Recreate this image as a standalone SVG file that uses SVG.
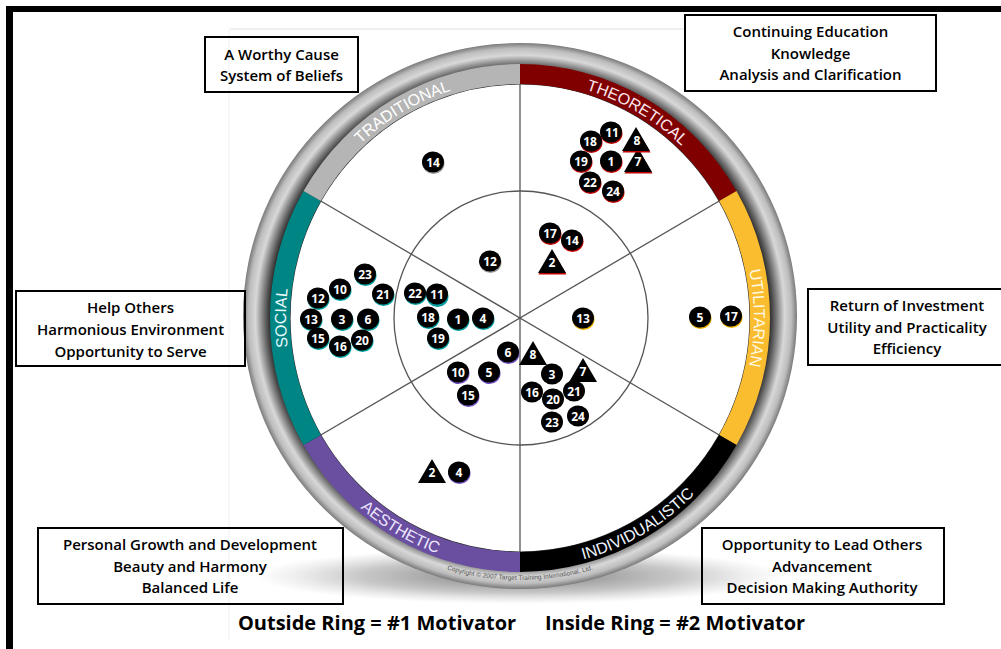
<svg xmlns="http://www.w3.org/2000/svg" width="1001" height="649" viewBox="0 0 1001 649">
<defs>
<radialGradient id="rimGrad" cx="50%" cy="50%" r="50%">
<stop offset="0" stop-color="#222"/>
<stop offset="0.895" stop-color="#1a1a1a"/>
<stop offset="0.915" stop-color="#555"/>
<stop offset="0.955" stop-color="#d8d8d8"/>
<stop offset="0.98" stop-color="#bdbdbd"/>
<stop offset="1" stop-color="#7a7a7a"/>
</radialGradient>
<radialGradient id="shadowGrad" cx="50%" cy="50%" r="50%">
<stop offset="0" stop-color="#666" stop-opacity="0.9"/>
<stop offset="0.6" stop-color="#999" stop-opacity="0.55"/>
<stop offset="1" stop-color="#bbb" stop-opacity="0"/>
</radialGradient>
<path id="pTrad" d="M 317.4,199 A 234 238 0 0 1 520,80"/>
<path id="pTheo" d="M 520,80 A 234 238 0 0 1 722.6,199"/>
<path id="pUtil" d="M 722.6,199 A 234 238 0 0 1 722.6,437"/>
<path id="pSoc" d="M 317.4,437 A 234 238 0 0 1 317.4,199"/>
<path id="pInd" d="M 520,568 A 246 250 0 0 0 733,443"/>
<path id="pAes" d="M 307,443 A 246 250 0 0 0 520,568"/>
<path id="pCopy" d="M 409.3,555.4 A 262 262 0 0 0 630.7,555.4"/>
<style>
.box{fill:none;stroke:#000;stroke-width:2}
.bt{font-family:"Open Sans","Liberation Sans",sans-serif;font-weight:600;font-size:15px;fill:#000;text-anchor:middle}
.leg{font-family:"Open Sans","Liberation Sans",sans-serif;font-weight:700;font-size:20px;fill:#000;text-anchor:middle}
.band{font-family:"Liberation Sans",Arial,sans-serif;font-size:16px;fill:#fff;text-anchor:middle}
.div{stroke:#555;stroke-width:1.3;fill:none}
.dot{fill:#000}
.tri{fill:#000}
.n{font-family:"Open Sans","Liberation Sans",sans-serif;font-weight:700;font-size:12px;fill:#fff;text-anchor:middle}
.sr{fill:#c00000}
.sg{fill:#a0a0a0}
.st{fill:#00a0a0}
.sy{fill:#f0b400}
.sp{fill:#7050c0}
</style>
</defs>
<rect width="1001" height="649" fill="#fff"/>
<g id="frame">
<rect x="6" y="6" width="995" height="6" fill="#000"/>
<rect x="6" y="6" width="7" height="643" fill="#000"/>
<line x1="230" y1="29" x2="685" y2="29" stroke="#e2e2e2" stroke-width="1"/>
<line x1="229" y1="29" x2="229" y2="640" stroke="#f0f0f0" stroke-width="1"/>
</g>
<g id="wheel">
<ellipse cx="520" cy="576" rx="265" ry="28" fill="url(#shadowGrad)"/>
<ellipse cx="520" cy="316" rx="277" ry="273" fill="url(#rimGrad)"/>
<ellipse cx="520" cy="318" rx="230" ry="234" fill="#fff" stroke="#333" stroke-width="1.2"/>
<path id="sec-theoretical" d="M 520,64 A 250 254 0 0 1 736.5,191 L 719.2,201 A 230 234 0 0 0 520,84 Z" fill="#800000"/>
<path id="sec-utilitarian" d="M 736.5,191 A 250 254 0 0 1 736.5,445 L 719.2,435 A 230 234 0 0 0 719.2,201 Z" fill="#fbbd30"/>
<path id="sec-individualistic" d="M 736.5,445 A 250 254 0 0 1 520,572 L 520,552 A 230 234 0 0 0 719.2,435 Z" fill="#000"/>
<path id="sec-aesthetic" d="M 520,572 A 250 254 0 0 1 303.5,445 L 320.8,435 A 230 234 0 0 0 520,552 Z" fill="#6a4fa0"/>
<path id="sec-social" d="M 303.5,445 A 250 254 0 0 1 303.5,191 L 320.8,201 A 230 234 0 0 0 320.8,435 Z" fill="#008585"/>
<path id="sec-traditional" d="M 303.5,191 A 250 254 0 0 1 520,64 L 520,84 A 230 234 0 0 0 320.8,201 Z" fill="#b5b5b5"/>
<text class="band"><textPath href="#pTrad" startOffset="50%">TRADITIONAL</textPath></text>
<text class="band" style="fill:#fbe6ee"><textPath href="#pTheo" startOffset="50%">THEORETICAL</textPath></text>
<text class="band" style="fill:#fff8e0"><textPath href="#pUtil" startOffset="50%">UTILITARIAN</textPath></text>
<text class="band" style="fill:#e6fafa"><textPath href="#pSoc" startOffset="50%">SOCIAL</textPath></text>
<text class="band" style="fill:#eef4ff"><textPath href="#pInd" startOffset="50%">INDIVIDUALISTIC</textPath></text>
<text class="band" style="fill:#ece6ff"><textPath href="#pAes" startOffset="50%">AESTHETIC</textPath></text>
<text font-family="Liberation Sans, Arial, sans-serif" font-size="6.5" fill="#555" text-anchor="middle"><textPath href="#pCopy" startOffset="50%">Copyright © 2007 Target Training International, Ltd.</textPath></text>
</g>
<g id="connectors">
<line class="div" x1="520" y1="84" x2="520" y2="552"/>
<line class="div" x1="320.8" y1="201" x2="719.2" y2="435"/>
<line class="div" x1="719.2" y1="201" x2="320.8" y2="435"/>
<circle class="div" cx="521" cy="318" r="127"/>
</g>
<g id="markers">
<g id="m-theo-o-18"><ellipse class="sr" cx="591.5" cy="142.5" rx="11" ry="10.5"/><ellipse class="dot" cx="591" cy="141" rx="11" ry="10.5"/><text class="n" x="590" y="145.5">18</text></g>
<g id="m-theo-o-11"><ellipse class="sr" cx="611.5" cy="133.5" rx="11" ry="10.5"/><ellipse class="dot" cx="611" cy="132" rx="11" ry="10.5"/><text class="n" x="612" y="136.5">11</text></g>
<g id="m-theo-o-7"><polygon class="sr" points="638.5,149.5 652.5,173.5 624.5,173.5"/><polygon class="tri" points="638,148 652,172 624,172"/><text class="n" x="638" y="166">7</text></g>
<g id="m-theo-o-8"><polygon class="sr" points="636.5,128.5 650.5,152.5 622.5,152.5"/><polygon class="tri" points="636,127 650,151 622,151"/><text class="n" x="637" y="145">8</text></g>
<g id="m-theo-o-19"><ellipse class="sr" cx="581.5" cy="162.5" rx="11" ry="10.5"/><ellipse class="dot" cx="581" cy="161" rx="11" ry="10.5"/><text class="n" x="581" y="165.5">19</text></g>
<g id="m-theo-o-1"><ellipse class="sr" cx="611.5" cy="162.5" rx="11" ry="10.5"/><ellipse class="dot" cx="611" cy="161" rx="11" ry="10.5"/><text class="n" x="611" y="165.5">1</text></g>
<g id="m-theo-o-22"><ellipse class="sr" cx="590.5" cy="183.5" rx="11" ry="10.5"/><ellipse class="dot" cx="590" cy="182" rx="11" ry="10.5"/><text class="n" x="590" y="186.5">22</text></g>
<g id="m-theo-o-24"><ellipse class="sr" cx="613.5" cy="192.5" rx="11" ry="10.5"/><ellipse class="dot" cx="613" cy="191" rx="11" ry="10.5"/><text class="n" x="613" y="195.5">24</text></g>
<g id="m-trad-o-14"><ellipse class="sg" cx="433.5" cy="163.5" rx="11" ry="10.5"/><ellipse class="dot" cx="433" cy="162" rx="11" ry="10.5"/><text class="n" x="433" y="166.5">14</text></g>
<g id="m-theo-i-17"><ellipse class="sr" cx="550.5" cy="234.5" rx="11" ry="10.5"/><ellipse class="dot" cx="550" cy="233" rx="11" ry="10.5"/><text class="n" x="550" y="237.5">17</text></g>
<g id="m-theo-i-14"><ellipse class="sr" cx="572.5" cy="241.5" rx="11" ry="10.5"/><ellipse class="dot" cx="572" cy="240" rx="11" ry="10.5"/><text class="n" x="572" y="244.5">14</text></g>
<g id="m-theo-i-2"><polygon class="sr" points="552.5,250.5 566.5,274.5 538.5,274.5"/><polygon class="tri" points="552,249 566,273 538,273"/><text class="n" x="552" y="267">2</text></g>
<g id="m-trad-i-12"><ellipse class="sg" cx="490.5" cy="262.5" rx="11" ry="10.5"/><ellipse class="dot" cx="490" cy="261" rx="11" ry="10.5"/><text class="n" x="490" y="265.5">12</text></g>
<g id="m-soc-o-23"><ellipse class="st" cx="365.5" cy="275.5" rx="11" ry="10.5"/><ellipse class="dot" cx="365" cy="274" rx="11" ry="10.5"/><text class="n" x="365" y="278.5">23</text></g>
<g id="m-soc-o-12"><ellipse class="st" cx="318.5" cy="299.5" rx="11" ry="10.5"/><ellipse class="dot" cx="318" cy="298" rx="11" ry="10.5"/><text class="n" x="318" y="302.5">12</text></g>
<g id="m-soc-o-10"><ellipse class="st" cx="340.5" cy="290.5" rx="11" ry="10.5"/><ellipse class="dot" cx="340" cy="289" rx="11" ry="10.5"/><text class="n" x="340" y="293.5">10</text></g>
<g id="m-soc-o-21"><ellipse class="st" cx="383.5" cy="295.5" rx="11" ry="10.5"/><ellipse class="dot" cx="383" cy="294" rx="11" ry="10.5"/><text class="n" x="383" y="298.5">21</text></g>
<g id="m-soc-o-13"><ellipse class="st" cx="311.5" cy="320.5" rx="11" ry="10.5"/><ellipse class="dot" cx="311" cy="319" rx="11" ry="10.5"/><text class="n" x="311" y="323.5">13</text></g>
<g id="m-soc-o-3"><ellipse class="st" cx="342.5" cy="320.5" rx="11" ry="10.5"/><ellipse class="dot" cx="342" cy="319" rx="11" ry="10.5"/><text class="n" x="342" y="323.5">3</text></g>
<g id="m-soc-o-6"><ellipse class="st" cx="368.5" cy="320.5" rx="11" ry="10.5"/><ellipse class="dot" cx="368" cy="319" rx="11" ry="10.5"/><text class="n" x="368" y="323.5">6</text></g>
<g id="m-soc-o-15"><ellipse class="st" cx="318.5" cy="339.5" rx="11" ry="10.5"/><ellipse class="dot" cx="318" cy="338" rx="11" ry="10.5"/><text class="n" x="318" y="342.5">15</text></g>
<g id="m-soc-o-20"><ellipse class="st" cx="362.5" cy="341.5" rx="11" ry="10.5"/><ellipse class="dot" cx="362" cy="340" rx="11" ry="10.5"/><text class="n" x="362" y="344.5">20</text></g>
<g id="m-soc-o-16"><ellipse class="st" cx="340.5" cy="347.5" rx="11" ry="10.5"/><ellipse class="dot" cx="340" cy="346" rx="11" ry="10.5"/><text class="n" x="340" y="350.5">16</text></g>
<g id="m-soc-i-22"><ellipse class="st" cx="415.5" cy="294.5" rx="11" ry="10.5"/><ellipse class="dot" cx="415" cy="293" rx="11" ry="10.5"/><text class="n" x="415" y="297.5">22</text></g>
<g id="m-soc-i-11"><ellipse class="st" cx="437.5" cy="296.5" rx="11" ry="10.5"/><ellipse class="dot" cx="437" cy="294" rx="11" ry="10.5"/><text class="n" x="437" y="298.5">11</text></g>
<g id="m-soc-i-18"><ellipse class="st" cx="428.5" cy="318.5" rx="11" ry="10.5"/><ellipse class="dot" cx="428" cy="317" rx="11" ry="10.5"/><text class="n" x="428" y="321.5">18</text></g>
<g id="m-soc-i-1"><ellipse class="st" cx="458.5" cy="320.5" rx="11" ry="10.5"/><ellipse class="dot" cx="458" cy="319" rx="11" ry="10.5"/><text class="n" x="458" y="323.5">1</text></g>
<g id="m-soc-i-4"><ellipse class="st" cx="483.5" cy="319.5" rx="11" ry="10.5"/><ellipse class="dot" cx="483" cy="318" rx="11" ry="10.5"/><text class="n" x="483" y="322.5">4</text></g>
<g id="m-soc-i-19"><ellipse class="st" cx="438.5" cy="339.5" rx="11" ry="10.5"/><ellipse class="dot" cx="438" cy="338" rx="11" ry="10.5"/><text class="n" x="438" y="342.5">19</text></g>
<g id="m-util-i-13"><ellipse class="sy" cx="583.5" cy="319.5" rx="11" ry="10.5"/><ellipse class="dot" cx="583" cy="318" rx="11" ry="10.5"/><text class="n" x="583" y="322.5">13</text></g>
<g id="m-util-o-5"><ellipse class="sy" cx="700.5" cy="318.5" rx="11" ry="10.5"/><ellipse class="dot" cx="700" cy="317" rx="11" ry="10.5"/><text class="n" x="700" y="321.5">5</text></g>
<g id="m-util-o-17"><ellipse class="sy" cx="731.5" cy="317.5" rx="11" ry="10.5"/><ellipse class="dot" cx="731" cy="316" rx="11" ry="10.5"/><text class="n" x="731" y="320.5">17</text></g>
<g id="m-aes-i-6"><ellipse class="sp" cx="508.5" cy="353.5" rx="11" ry="10.5"/><ellipse class="dot" cx="508" cy="352" rx="11" ry="10.5"/><text class="n" x="508" y="356.5">6</text></g>
<g id="m-aes-i-10"><ellipse class="sp" cx="458.5" cy="373.5" rx="11" ry="10.5"/><ellipse class="dot" cx="458" cy="372" rx="11" ry="10.5"/><text class="n" x="458" y="376.5">10</text></g>
<g id="m-aes-i-5"><ellipse class="sp" cx="489.5" cy="373.5" rx="11" ry="10.5"/><ellipse class="dot" cx="489" cy="372" rx="11" ry="10.5"/><text class="n" x="489" y="376.5">5</text></g>
<g id="m-aes-i-15"><ellipse class="sp" cx="468.5" cy="396.5" rx="11" ry="10.5"/><ellipse class="dot" cx="468" cy="395" rx="11" ry="10.5"/><text class="n" x="468" y="399.5">15</text></g>
<g id="m-ind-i-8"><polygon class="tri" points="533,341 547,365 519,365"/><text class="n" x="533" y="359">8</text></g>
<g id="m-ind-i-7"><polygon class="tri" points="583,358 597,382 569,382"/><text class="n" x="583" y="376">7</text></g>
<g id="m-ind-i-3"><ellipse class="dot" cx="552" cy="374" rx="11" ry="10.5"/><text class="n" x="552" y="378.5">3</text></g>
<g id="m-ind-i-16"><ellipse class="dot" cx="532" cy="392" rx="11" ry="10.5"/><text class="n" x="532" y="396.5">16</text></g>
<g id="m-ind-i-21"><ellipse class="dot" cx="574" cy="391" rx="11" ry="10.5"/><text class="n" x="574" y="395.5">21</text></g>
<g id="m-ind-i-20"><ellipse class="dot" cx="553" cy="399" rx="11" ry="10.5"/><text class="n" x="553" y="403.5">20</text></g>
<g id="m-ind-i-24"><ellipse class="dot" cx="578" cy="416" rx="11" ry="10.5"/><text class="n" x="578" y="420.5">24</text></g>
<g id="m-ind-i-23"><ellipse class="dot" cx="552" cy="422" rx="11" ry="10.5"/><text class="n" x="552" y="426.5">23</text></g>
<g id="m-aes-o-2"><polygon class="tri" points="432,459 446,483 418,483"/><text class="n" x="432" y="477">2</text></g>
<g id="m-aes-o-4"><ellipse class="sp" cx="459.5" cy="473.5" rx="11" ry="10.5"/><ellipse class="dot" cx="459" cy="472" rx="11" ry="10.5"/><text class="n" x="459" y="476.5">4</text></g>
</g>
<g id="box-traditional">
<rect class="box" x="205" y="37" width="153" height="55"/>
<text class="bt" x="281.5" y="59.5">A Worthy Cause</text>
<text class="bt" x="281.5" y="80.5">System of Beliefs</text>
</g>
<g id="box-theoretical">
<rect class="box" x="685" y="15" width="251" height="76"/>
<text class="bt" x="810.5" y="36.5">Continuing Education</text>
<text class="bt" x="810.5" y="58.5">Knowledge</text>
<text class="bt" x="810.5" y="80">Analysis and Clarification</text>
</g>
<g id="box-social">
<rect class="box" x="16" y="291" width="229" height="75"/>
<text class="bt" x="130.5" y="312.5">Help Others</text>
<text class="bt" x="130.5" y="334.5">Harmonious Environment</text>
<text class="bt" x="130.5" y="356.5">Opportunity to Serve</text>
</g>
<g id="box-utilitarian">
<rect class="box" x="808" y="289" width="200" height="76"/>
<text class="bt" x="907" y="311">Return of Investment</text>
<text class="bt" x="907" y="332.5">Utility and Practicality</text>
<text class="bt" x="907" y="354">Efficiency</text>
</g>
<g id="box-aesthetic">
<rect class="box" x="38" y="528" width="305" height="76"/>
<text class="bt" x="190" y="549.5">Personal Growth and Development</text>
<text class="bt" x="190" y="571.5">Beauty and Harmony</text>
<text class="bt" x="190" y="592.5">Balanced Life</text>
</g>
<g id="box-individualistic">
<rect class="box" x="702" y="528" width="242" height="76"/>
<text class="bt" x="822" y="549.5">Opportunity to Lead Others</text>
<text class="bt" x="822" y="571.5">Advancement</text>
<text class="bt" x="822" y="592.5">Decision Making Authority</text>
</g>
<g id="legend">
<text class="leg" x="377" y="630">Outside Ring = #1 Motivator</text>
<text class="leg" x="675" y="630">Inside Ring = #2 Motivator</text>
</g>
</svg>
